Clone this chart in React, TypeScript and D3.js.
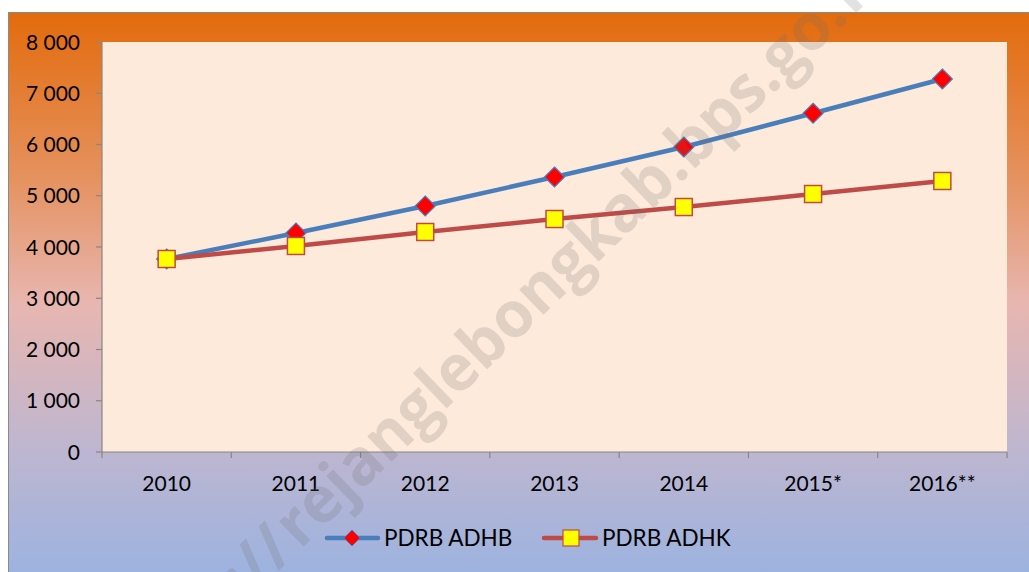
import React from "react";
import * as d3 from "d3";

const categories = ["2010", "2011", "2012", "2013", "2014", "2015*", "2016**"];
const adhb = [3766, 4273, 4800, 5366, 5951, 6610, 7278];
const adhk = [3766, 4020, 4293, 4546, 4780, 5034, 5288];
const yTicks = [0, 1000, 2000, 3000, 4000, 5000, 6000, 7000, 8000];
const seriesNames = ["PDRB ADHB", "PDRB ADHK"];

const W = 1029;
const H = 572;
const plot = { left: 102, right: 1007, top: 42, bottom: 452 };
const FONT = "Lato, 'Open Sans', sans-serif";

export default function App() {
  const x = d3.scaleBand<string>().domain(categories).range([plot.left, plot.right]);
  const y = d3.scaleLinear().domain([0, 8000]).range([plot.bottom, plot.top]);
  const cx = (c: string) => (x(c) as number) + x.bandwidth() / 2;
  const line = d3
    .line<number>()
    .x((_, i) => cx(categories[i]))
    .y((d) => y(d));
  const fmt = (v: number) => d3.format(",")(v).replace(/,/g, " ");
  const boundaries = categories.map((c) => x(c) as number).concat([plot.right]);

  const diamond = (px: number, py: number, r: number) =>
    `M${px},${py - r}L${px + r},${py}L${px},${py + r}L${px - r},${py}Z`;

  return (
    <svg width={W} height={H} style={{ position: "absolute", left: 0, top: 0 }}>
      <defs>
        <linearGradient id="bg" x1="0" y1="0" x2="0" y2="1">
          <stop offset="0" stopColor="#E36B0C" />
          <stop offset="0.28" stopColor="#E5915E" />
          <stop offset="0.5" stopColor="#E8B6B0" />
          <stop offset="0.75" stopColor="#BEB6D0" />
          <stop offset="1" stopColor="#97B2E2" />
        </linearGradient>
      </defs>
      <rect x={0} y={0} width={W} height={H} fill="#fff" />
      <rect x={8.5} y={12.5} width={W + 10} height={H + 10} fill="url(#bg)" stroke="#8A8A8A" strokeWidth={1} />
      <rect x={plot.left} y={plot.top} width={plot.right - plot.left} height={plot.bottom - plot.top} fill="#FDEADA" />
      {/* axes */}
      <line x1={plot.left} x2={plot.left} y1={plot.top} y2={plot.bottom} stroke="#868686" strokeWidth={1.2} />
      <line x1={plot.left} x2={plot.right} y1={plot.bottom} y2={plot.bottom} stroke="#868686" strokeWidth={1.2} />
      {yTicks.map((t) => (
        <g key={t}>
          <line x1={plot.left - 6} x2={plot.left} y1={y(t)} y2={y(t)} stroke="#868686" strokeWidth={1.2} />
          <text x={80} y={y(t)} dy="0.36em" textAnchor="end" fontFamily={FONT} fontSize={21} fill="#000">
            {fmt(t)}
          </text>
        </g>
      ))}
      {boundaries.map((b, i) => (
        <line key={i} x1={b} x2={b} y1={plot.bottom} y2={plot.bottom + 6} stroke="#868686" strokeWidth={1.2} />
      ))}
      {categories.map((c) => (
        <text key={c} x={cx(c)} y={491} textAnchor="middle" fontFamily={FONT} fontSize={21} fill="#000">
          {c}
        </text>
      ))}
      {/* series */}
      <path d={line(adhb) || ""} fill="none" stroke="#4A7EBB" strokeWidth={4.5} strokeLinejoin="round" />
      {adhb.map((v, i) => (
        <path key={i} d={diamond(cx(categories[i]), y(v), 10)} fill="#FF0000" stroke="#4A7EBB" strokeWidth={1.2} />
      ))}
      <path d={line(adhk) || ""} fill="none" stroke="#BE4B48" strokeWidth={4.5} strokeLinejoin="round" />
      {adhk.map((v, i) => (
        <rect key={i} x={cx(categories[i]) - 8.5} y={y(v) - 8.5} width={17} height={17} fill="#FFFF00" stroke="#BE4B48" strokeWidth={1.5} />
      ))}
      {/* legend */}
      <g>
        <line x1={327} x2={378} y1={538} y2={538} stroke="#4A7EBB" strokeWidth={4.5} strokeLinecap="round" />
        <path d={diamond(352, 538, 8)} fill="#FF0000" stroke="#4A7EBB" strokeWidth={1} />
        <text x={384} y={538} dy="0.36em" fontFamily={FONT} fontSize={22.5} fill="#000">{seriesNames[0]}</text>
        <line x1={544} x2={596} y1={538} y2={538} stroke="#BE4B48" strokeWidth={4.5} strokeLinecap="round" />
        <rect x={563} y={530} width={16} height={16} fill="#FFFF00" stroke="#BE4B48" strokeWidth={1.2} />
        <text x={602} y={538} dy="0.36em" fontFamily={FONT} fontSize={22.5} fill="#000">{seriesNames[1]}</text>
      </g>
      {/* watermark */}
      <g transform="translate(300,550) rotate(-44)" fontFamily="'Open Sans', sans-serif" fontWeight="bold" fontSize={64} fill="#6E6E6E" fillOpacity={0.2}>
        <text x={-4} y={0} textAnchor="end">http://</text>
        <text x={0} y={0} textAnchor="start" textLength={765} lengthAdjust="spacingAndGlyphs">rejanglebongkab.bps.go.</text>
        <text x={768} y={0} textAnchor="start">id</text>
      </g>
    </svg>
  );
}
